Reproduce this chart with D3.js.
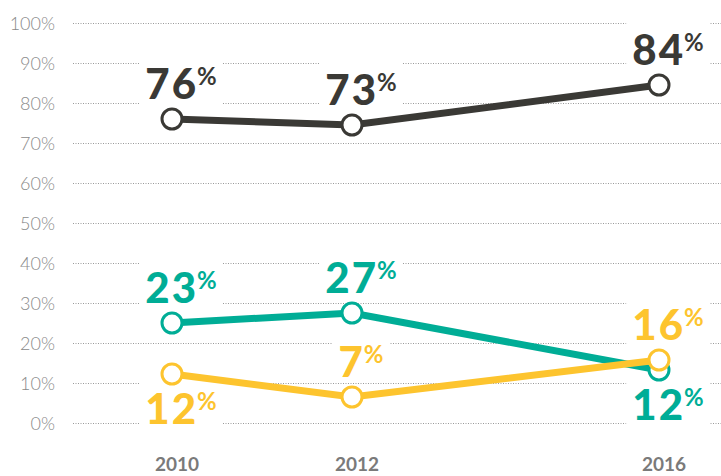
<!DOCTYPE html>
<html lang="en">
<head>
    <meta charset="UTF-8">
    <title>Line chart</title>
    <script src="https://d3js.org/d3.v7.min.js"></script>
    <style>
        body { margin: 0; background: #fff; }
        svg { display: block; font-family: Lato, "Open Sans", sans-serif; }
        .grid { stroke: #9a9a9a; stroke-width: 1; stroke-dasharray: 1 1.5; }
        .tick-label { fill: #8a8a8a; font-size: 18px; font-weight: 300; }
        .year-label { fill: #7a7a7a; font-size: 19px; font-weight: 700; }
    </style>
</head>
<body>
</body>
<script>
    const width = 721;
    const height = 476;

    // data
    const years = [2010, 2012, 2016];
    const yTicks = [0, 10, 20, 30, 40, 50, 60, 70, 80, 90, 100];

    const darkValues = [76, 74.5, 84.5];
    const darkLabels = ["76", "73", "84"];
    const darkSide = ["above", "above", "above"];

    const tealValues = [25, 27.5, 13.25];
    const tealLabels = ["23", "27", "12"];
    const tealSide = ["above", "above", "below"];

    const yellowValues = [12.25, 6.5, 15.75];
    const yellowLabels = ["12", "7", "16"];
    const yellowSide = ["below", "above", "above"];

    const series = [
        {name: "dark", color: "#3a3935", values: darkValues, labels: darkLabels, side: darkSide},
        {name: "teal", color: "#00ad96", values: tealValues, labels: tealLabels, side: tealSide},
        {name: "yellow", color: "#fdc42e", values: yellowValues, labels: yellowLabels, side: yellowSide}
    ];

    const x = d3.scaleLinear().domain(years).range([172, 352, 659]);
    const y = d3.scaleLinear().domain([0, 100]).range([423, 23]);

    const svg = d3.select("body").append("svg")
        .attr("width", width)
        .attr("height", height);

    // dotted gridlines
    svg.append("g").selectAll("line")
        .data(yTicks)
        .enter().append("line")
        .attr("class", "grid")
        .attr("x1", 73)
        .attr("x2", width)
        .attr("y1", d => y(d) + 0.5)
        .attr("y2", d => y(d) + 0.5);

    svg.append("g").selectAll("text")
        .data(yTicks)
        .enter().append("text")
        .attr("class", "tick-label")
        .attr("x", 55)
        .attr("y", d => y(d) + 6.5)
        .attr("text-anchor", "end")
        .text(d => d + "%");

    svg.append("g").selectAll("text")
        .data(years)
        .enter().append("text")
        .attr("class", "year-label")
        .attr("x", d => x(d) + 5)
        .attr("y", 471)
        .attr("text-anchor", "middle")
        .text(d => d);

    // label points
    const labelData = series.flatMap(s => years.map((yr, i) => {
        const py = y(s.values[i]);
        return {
            color: s.color,
            text: s.labels[i],
            x: x(yr) + 9,
            base: s.side[i] === "above" ? py - 20 : py + 50
        };
    }));

    const boxLayer = svg.append("g");
    const lineLayer = svg.append("g");
    const labelLayer = svg.append("g");

    const line = d3.line()
        .x((d, i) => x(years[i]))
        .y(d => y(d));

    series.forEach(s => {
        const g = lineLayer.append("g");
        g.append("path")
            .datum(s.values)
            .attr("d", line)
            .attr("fill", "none")
            .attr("stroke", s.color)
            .attr("stroke-width", 7);
        g.selectAll("circle")
            .data(s.values)
            .enter().append("circle")
            .attr("cx", (d, i) => x(years[i]))
            .attr("cy", d => y(d))
            .attr("r", 10)
            .attr("fill", "#fff")
            .attr("stroke", s.color)
            .attr("stroke-width", 3);
    });

    const labels = labelLayer.selectAll("text")
        .data(labelData)
        .enter().append("text")
        .attr("x", d => d.x)
        .attr("y", d => d.base)
        .attr("text-anchor", "middle")
        .attr("fill", d => d.color)
        .style("font-size", "42px")
        .style("font-weight", 900);
    labels.append("tspan")
        .style("letter-spacing", "2px")
        .text(d => d.text);
    labels.append("tspan")
        .attr("dx", -1)
        .attr("dy", -14)
        .style("font-size", "24px")
        .style("font-weight", 700)
        .text("%");

    // white boxes behind the labels that cut the gridlines
    labels.each(function (d) {
        const b = this.getBBox();
        boxLayer.append("rect")
            .attr("x", b.x - 6)
            .attr("width", b.width + 12)
            .attr("y", d.base - 42)
            .attr("height", 47)
            .attr("fill", "#fff");
    });
</script>
</html>
